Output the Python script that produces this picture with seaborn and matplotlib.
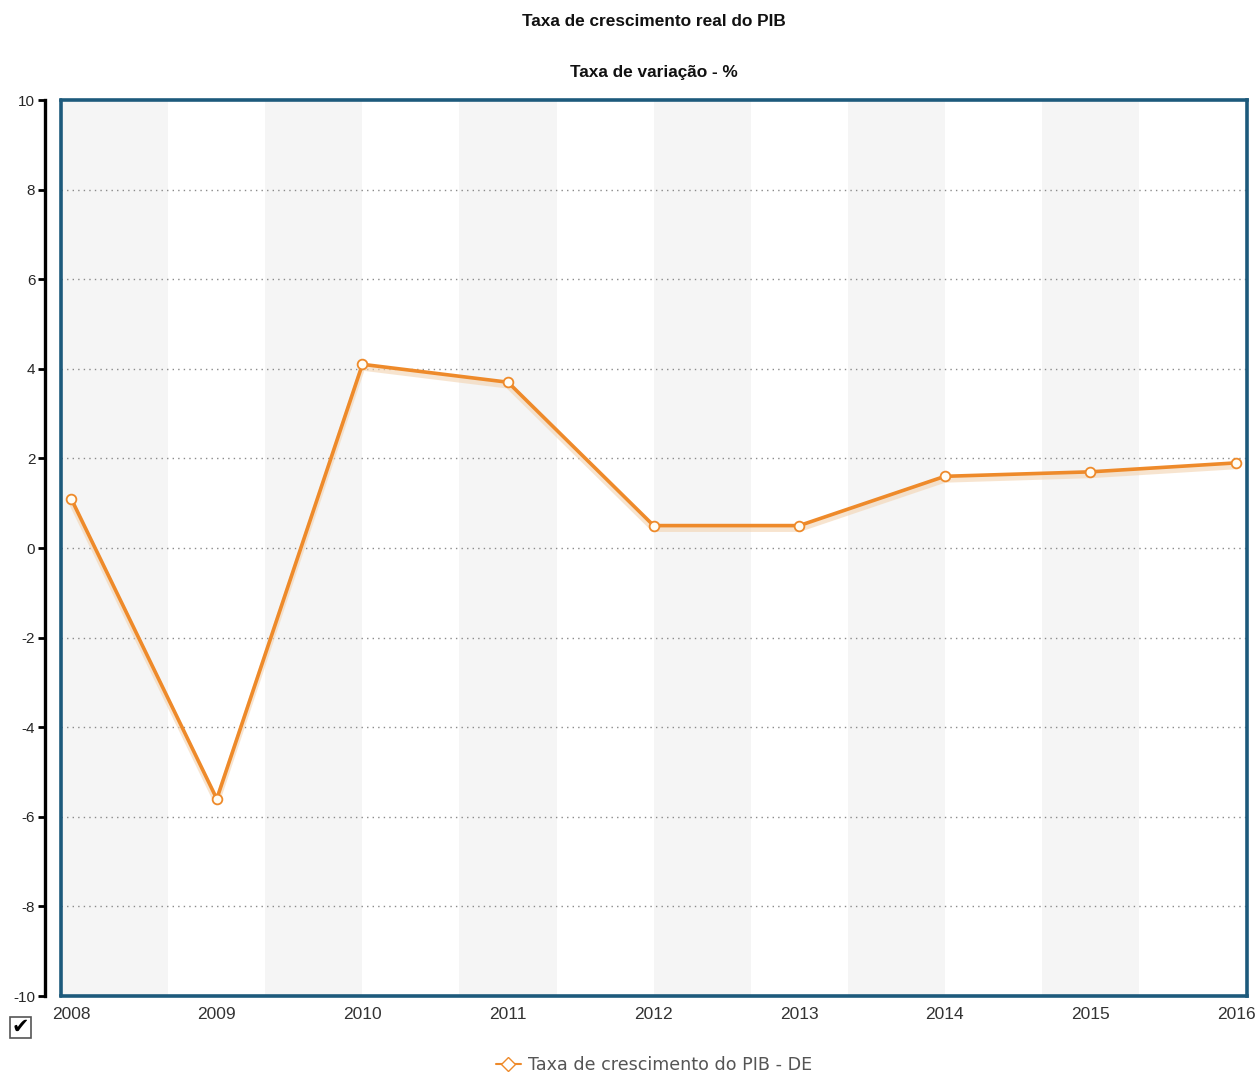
import numpy as np
import pandas as pd
import matplotlib
matplotlib.use("Agg")
import matplotlib.pyplot as plt
import seaborn as sns
from matplotlib.lines import Line2D
from matplotlib.patches import Rectangle

years = [2008, 2009, 2010, 2011, 2012, 2013, 2014, 2015, 2016]
growth = [1.1, -5.6, 4.1, 3.7, 0.5, 0.5, 1.6, 1.7, 1.9]
title = "Taxa de crescimento real do PIB"
subtitle = "Taxa de variação - %"
series_name = "Taxa de crescimento do PIB - DE"
y_ticks = [-10, -8, -6, -4, -2, 0, 2, 4, 6, 8, 10]

df = pd.DataFrame({"Ano": years, "Valor": growth})

sns.set_theme(style="white")
plt.rcParams['font.family'] = ['Liberation Sans', 'DejaVu Sans']

fig = plt.figure(figsize=(12.6, 10.77), dpi=100)
ax = fig.add_axes([61/1260, 1-996/1077, (1247-61)/1260, (996-100)/1077])

xmin, xmax = years[0] - 0.07, years[-1] + 0.075
ax.set_xlim(xmin, xmax)
ax.set_ylim(-10, 10)

# alternating background bands (2/3 year wide)
edges = list(np.arange(years[0] + 2/3, years[-1] - 0.5, 2/3))
band_edges = [xmin] + edges + [xmax]
for i in range(0, len(band_edges) - 1, 2):
    ax.axvspan(band_edges[i], band_edges[i+1], color="#f5f5f5", zorder=0, lw=0)

# dotted horizontal grid
for t in y_ticks[1:-1]:
    ax.axhline(t, color="#8a8a8a", lw=1, ls=(0, (1, 3)), zorder=1)

orange = "#ee8a2a"
# shadow
ax.plot(df["Ano"], df["Valor"] - 0.08, color="#f3d3b0", lw=4, alpha=0.6, zorder=2, solid_capstyle="round")
sns.lineplot(data=df, x="Ano", y="Valor", ax=ax, color=orange, lw=2.6, zorder=3,
             marker="o", markersize=7, markerfacecolor="#fffdf5",
             markeredgecolor=orange, markeredgewidth=1.3)

ax.set_xlabel("")
ax.set_ylabel("")
ax.set_xticks(years)
ax.set_xticklabels([str(y) for y in years], fontsize=12.5, color="#333333")
ax.set_yticks(y_ticks)
ax.set_yticklabels([str(t) for t in y_ticks], fontsize=12, color="#333333")
ax.tick_params(axis="x", length=0, pad=8)
ax.tick_params(axis="y", left=True, length=5, width=2, color="black", pad=2)

frame_color = "#1d5a7c"
for s in ["top", "right", "bottom"]:
    ax.spines[s].set_color(frame_color)
    ax.spines[s].set_linewidth(2.6)
ax.spines["left"].set_position(("outward", 11.5))
ax.spines["left"].set_color("black")
ax.spines["left"].set_linewidth(2.4)
ax.axvline(xmin, color=frame_color, lw=2.6, clip_on=False, zorder=5)

fig.text(0.519, 1-22/1077, title, ha="center", va="center", fontsize=12.4, fontweight="bold", color="#111111")
fig.text(0.519, 1-72/1077, subtitle, ha="center", va="center", fontsize=12.4, fontweight="bold", color="#111111")

# checkbox
fig.patches.append(Rectangle((10/1260, 1-1038/1077), 21/1260, 21/1077, transform=fig.transFigure,
                             fill=False, edgecolor="#555555", lw=1.2))
fig.text(20.5/1260, 1-1027/1077, "✔", ha="center", va="center", fontsize=15, color="black",
         family="DejaVu Sans")

handle = Line2D([0], [0], color=orange, lw=1.5, marker="D", markersize=7.5,
                markerfacecolor="white", markeredgecolor=orange)
fig.legend([handle], [series_name], loc="center", bbox_to_anchor=(0.519, 1-1065/1077),
           frameon=False, prop={"family": "DejaVu Sans", "size": 12.6}, labelcolor="#555555",
           handlelength=1.4, handletextpad=0.4)

fig.savefig("out.png", dpi=100)
